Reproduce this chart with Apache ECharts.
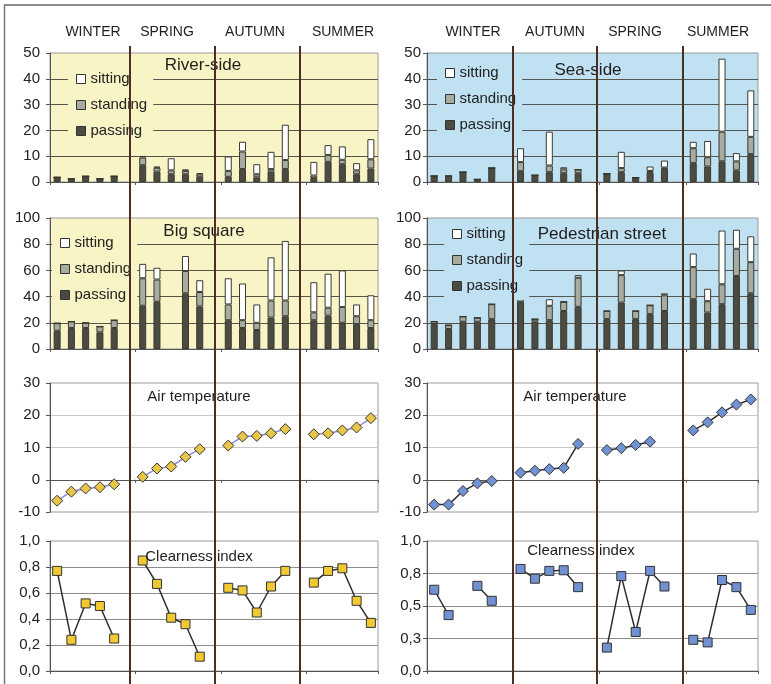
<!DOCTYPE html>
<html>
<head>
<meta charset="utf-8">
<script src="https://cdn.jsdelivr.net/npm/echarts@6/dist/echarts.min.js"></script>
<style>
html,body{margin:0;padding:0;background:#fff;}
#chart{width:771px;height:684px;}
</style>
</head>
<body>
<div id="chart"></div>
<script>
// ---------- DATA ----------
const seasonsLeft = ['WINTER', 'SPRING', 'AUTUMN', 'SUMMER'];
const seasonsRight = ['WINTER', 'AUTUMN', 'SPRING', 'SUMMER'];

// River-side (left order: winter, spring, autumn, summer)
const riverPassing  = [[1.8, 1.2, 2.2, 1.2, 2.2], [6.5, 4, 3, 3, 2], [2, 5, 1.8, 4, 5], [1.5, 7.8, 6.9, 3, 5.2]];
const riverStanding = [[0, 0, 0, 0, 0], [3, 1.5, 1.5, 1.3, 1], [2.3, 6.8, 1.2, 1, 3.5], [1, 2.7, 1.7, 1.5, 3.6]];
const riverSitting  = [[0, 0, 0, 0, 0], [0.6, 0.5, 4.7, 0.6, 0.4], [5.6, 3.8, 3.9, 6.7, 13.7], [5.3, 3.8, 5.2, 2.8, 7.8]];

// Sea-side (right order: winter, autumn, spring, summer)
const seaPassing  = [[2.3, 2.3, 3.8, 1, 5.4], [4.2, 2.6, 3.8, 3.4, 3.4], [3.2, 3.8, 1.7, 3.8, 5.1], [7.3, 6, 8, 4.5, 10.8]];
const seaStanding = [[0, 0, 0, 0, 0], [3.5, 0, 2.6, 1.5, 1.4], [0, 1.6, 0, 0.5, 0.5], [5.8, 3.6, 11.5, 3.5, 6.7]];
const seaSitting  = [[0, 0, 0, 0, 0], [5.4, 0, 13.1, 0.8, 0], [0, 6.3, 0, 1.7, 2.7], [2.5, 6.3, 28.3, 3.2, 18]];

// Big square (left order)
const squarePassing  = [[13.9, 16, 16, 12.7, 16], [33, 36, null, 42.5, 32.5], [22, 16, 14.5, 24, 25], [22, 25.5, 20, 19, 16]];
const squareStanding = [[5.8, 5, 4, 4.5, 6], [21, 17, null, 17, 11], [12, 6, 5.5, 13, 12], [6, 6, 12, 6, 6]];
const squareSitting  = [[0, 0, 0, 0, 0], [11, 9, null, 11.5, 9], [20, 28, 14, 33, 45.5], [23, 26, 28, 9, 19]];

// Pedestrian street (right order)
const streetPassing  = [[19, 15.2, 20.8, 20.8, 22.8], [36, 21, 22, 29, 32.2], [22.8, 35.4, 22.8, 26.6, 29], [38, 27.8, 34.2, 55.7, 42.5]];
const streetStanding = [[2, 3, 4, 3, 11.4], [11.6, 1.8, 11, 7, 22.2], [6.2, 21, 6.2, 6.8, 12], [24.5, 8.7, 15.2, 20.8, 23.8]];
const streetSitting  = [[0, 0, 0, 0, 0], [8.6, 0, 5, 0, 2], [0, 3.5, 0, 0, 1.5], [10.4, 9.5, 41, 14.5, 19.7]];

// Air temperature
const airLeft  = [[-6.5, -3.7, -2.7, -2.3, -1.4], [0.9, 3.5, 4.1, 7.1, 9.5], [10.6, 13.4, 13.6, 14.4, 15.7], [14.1, 14.4, 15.3, 16.2, 19.1]];
const airRight = [[-7.7, -7.7, -3.5, -1.1, -0.4], [2.2, 2.8, 3.3, 3.7, 11.1], [9.2, 9.8, 10.8, 11.8, null], [15.3, 17.8, 20.9, 23.3, 24.9]];

// Clearness index
const clearLeft  = [[0.77, 0.24, 0.52, 0.50, 0.25], [0.85, 0.67, 0.41, 0.36, 0.11], [0.64, 0.62, 0.45, 0.65, 0.77], [0.68, 0.77, 0.79, 0.54, 0.37]];
const clearRight = [[0.625, 0.43, null, 0.655, 0.54], [0.785, 0.71, 0.77, 0.775, 0.645], [0.18, 0.73, 0.30, 0.77, 0.65], [0.24, 0.22, 0.70, 0.645, 0.47]];

const legendNames = ['sitting', 'standing', 'passing'];

// ---------- HELPERS ----------
function flat(groups) {
  const out = [];
  groups.forEach((g, i) => { if (i > 0) out.push(null); out.push(...g); });
  return out;
}
function cats(seasons) {
  const out = [];
  seasons.forEach((s, i) => {
    if (i > 0) out.push('gap' + i);
    for (let k = 1; k <= 5; k++) out.push(s + ' ' + k);
  });
  return out;
}
const FONT = '"Liberation Sans", Arial, sans-serif';
const YELLOW = '#f8f4c6';
const BLUE = '#c0e1f1';
const COLS = [{ left: 50, width: 328 }, { left: 427, width: 331 }];
const ROWS = [{ top: 53, height: 129 }, { top: 218, height: 131 }, { top: 383, height: 129 }, { top: 541, height: 130 }];
const rowBg = [[YELLOW, BLUE], [YELLOW, BLUE], ['#ffffff', '#ffffff'], ['#ffffff', '#ffffff']];
const rowSplit = ['#55554c', '#55554c', '#c8c8c8', '#8c8c8c'];
const yRanges = [
  { min: 0, max: 50, interval: 10 },
  { min: 0, max: 100, interval: 20 },
  { min: -10, max: 30, interval: 10 },
  null
];
const fmtComma = v => v.toFixed(1).replace('.', ',');

const grids = [], xAxes = [], yAxes = [], series = [];
for (let r = 0; r < 4; r++) {
  for (let c = 0; c < 2; c++) {
    const idx = r * 2 + c;
    grids.push({
      left: COLS[c].left, width: COLS[c].width, top: ROWS[r].top, height: ROWS[r].height,
      show: true, backgroundColor: rowBg[r][c], borderColor: '#9a9a9a', borderWidth: 1
    });
    xAxes.push({
      type: 'category', gridIndex: idx, data: cats(c === 0 ? seasonsLeft : seasonsRight),
      boundaryGap: true,
      axisLabel: { show: false },
      axisTick: { show: true, length: 3, lineStyle: { color: '#555' } },
      axisLine: { show: true, lineStyle: { color: '#555', width: 1 } },
      splitLine: { show: false }
    });
    let range = yRanges[r];
    let fmt = null;
    if (r === 3) {
      range = c === 0 ? { min: 0, max: 1, interval: 0.2 } : { min: 0, max: 1, interval: 0.25 };
      fmt = fmtComma;
    }
    yAxes.push(Object.assign({
      type: 'value', gridIndex: idx,
      axisLine: { show: true, lineStyle: { color: '#555', width: 1 } },
      axisTick: { show: true, length: 4, lineStyle: { color: '#555' } },
      axisLabel: { fontSize: 15, color: '#222', fontFamily: FONT, margin: c === 0 ? 10 : 6, formatter: fmt || undefined },
      splitLine: { show: true, showMinLine: false, showMaxLine: false, lineStyle: { color: rowSplit[r], width: 1 } }
    }, range));
  }
}

const barColors = { passing: '#4b4b42', standing: '#a7aba0', sitting: '#ffffff' };
function addBars(idx, passing, standing, sitting) {
  [['passing', passing], ['standing', standing], ['sitting', sitting]].forEach(([name, arr]) => {
    series.push({
      type: 'bar', name, xAxisIndex: idx, yAxisIndex: idx, stack: 'st' + idx,
      barWidth: 7, data: flat(arr),
      itemStyle: { color: barColors[name], borderColor: '#3a3a33', borderWidth: 1 },
      emphasis: { disabled: true }, z: 2
    });
  });
}
addBars(0, riverPassing, riverStanding, riverSitting);
addBars(1, seaPassing, seaStanding, seaSitting);
addBars(2, squarePassing, squareStanding, squareSitting);
addBars(3, streetPassing, streetStanding, streetSitting);

function addLine(idx, arr, lineColor, symbol, size, fill) {
  series.push({
    type: 'line', name: 'line' + idx, xAxisIndex: idx, yAxisIndex: idx, data: flat(arr),
    connectNulls: false, symbol, symbolSize: size, showAllSymbol: true,
    lineStyle: { color: lineColor, width: 1.5 },
    itemStyle: { color: fill, borderColor: '#333', borderWidth: 1 },
    emphasis: { disabled: true }, z: 3
  });
}
addLine(4, airLeft, '#8c88d2', 'diamond', 11, '#e8c64a');
addLine(5, airRight, '#2e2e2e', 'diamond', 11, '#7091d2');
addLine(6, clearLeft, '#2e2e2e', 'rect', 9, '#f0c933');
addLine(7, clearRight, '#2e2e2e', 'rect', 9, '#7091d2');

function legendAt(left, top, bg, padTop) {
  return {
    data: legendNames.map(n => ({ name: n, icon: 'rect' })), orient: 'vertical', left, top,
    icon: 'rect',
    itemWidth: 9, itemHeight: 9, itemGap: 8, selectedMode: false,
    padding: [padTop, 6, 5, 8], backgroundColor: bg,
    textStyle: { fontSize: 15, color: '#222', fontFamily: FONT, lineHeight: 18 },
    itemStyle: { borderColor: '#333', borderWidth: 1 }, z: 4
  };
}
const legends = [
  legendAt(68, 65, YELLOW, 5),
  legendAt(52, 229, YELLOW, 5),
  legendAt(437, 59, BLUE, 5),
  legendAt(444, 222, BLUE, 3)
];

// ---------- DECORATION ----------
const graphics = [];
function txt(t, x, y, size) {
  graphics.push({
    type: 'text', x, y, z: 50,
    style: { text: t, textAlign: 'center', textVerticalAlign: 'middle', font: size + 'px ' + FONT, fill: '#1e1e1e' }
  });
}
const headerXLeft = [93, 167, 255, 343];
const headerXRight = [473, 555, 635, 718];
seasonsLeft.forEach((s, i) => txt(s, headerXLeft[i], 32, 14));
seasonsRight.forEach((s, i) => txt(s, headerXRight[i], 32, 14));
txt('River-side', 203, 65, 17);
txt('Sea-side', 588, 70, 17);
txt('Big square', 204, 231, 17);
txt('Pedestrian street', 602, 234, 17);
txt('Air temperature', 199, 397, 15);
txt('Air temperature', 575, 397, 15);
txt('Clearness index', 199, 557, 15);
txt('Clearness index', 581, 551, 15);

const dividerX = [130, 215, 300, 513, 597, 683];
dividerX.forEach(x => graphics.push({
  type: 'line', z: 100, shape: { x1: x, y1: 46, x2: x, y2: 684 },
  style: { stroke: '#4a2f22', lineWidth: 2 }
}));
graphics.push({ type: 'line', z: 100, shape: { x1: 4, y1: 5, x2: 771, y2: 5 }, style: { stroke: '#8a8a8a', lineWidth: 2 } });
graphics.push({ type: 'line', z: 100, shape: { x1: 4.5, y1: 5, x2: 4.5, y2: 684 }, style: { stroke: '#7a7a7a', lineWidth: 1.5 } });

const chart = echarts.init(document.getElementById('chart'), null, { renderer: 'canvas' });
chart.setOption({
  animation: false,
  backgroundColor: '#ffffff',
  textStyle: { fontFamily: FONT },
  grid: grids, xAxis: xAxes, yAxis: yAxes, series, legend: legends,
  graphic: graphics
});
</script>
</body>
</html>
